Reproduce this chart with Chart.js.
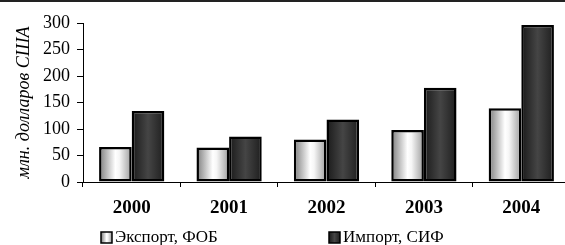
<!DOCTYPE html>
<html>
<head>
<meta charset="utf-8">
<script src="https://cdn.jsdelivr.net/npm/chart.js@4"></script>
<style>
	html, body { margin: 0; padding: 0; background: #fff; overflow: hidden; }
	#wrap { width: 565px; height: 245px; overflow: hidden; }
</style>
</head>
<body>
<div id="wrap"><canvas id="tradeChart" width="572" height="245"></canvas></div>
<script>
const years = ['2000', '2001', '2002', '2003', '2004'];
const exportFob = [66, 65, 80, 98, 139];
const importCif = [134, 86, 118, 178, 296];
const yTicks = [0, 50, 100, 150, 200, 250, 300];
const seriesNames = ['Экспорт, ФОБ', 'Импорт, СИФ'];
const yTitle = 'млн. долларов США';

const serif = '"Liberation Serif", "Times New Roman", serif';
const CAT_PCT = 0.67;

// gradient stops for the two bar styles
const exportStops = [[0, '#7c7c7c'], [0.5, '#ffffff'], [0.62, '#f6f6f6'], [1, '#9c9c9c']];
const importStops = [[0, '#1a1a1a'], [0.5, '#454545'], [1, '#1e1e1e']];

function barFill(stops, solid) {
	return function(context) {
		const chart = context.chart;
		const xs = chart.scales.x;
		if (!xs || context.dataIndex === undefined || !isFinite(xs.left) || !isFinite(xs.right)) return solid;
		const catW = (xs.right - xs.left) / years.length;
		const center = xs.getPixelForValue(context.dataIndex);
		const barW = catW * CAT_PCT / 2;
		const left = center - catW * CAT_PCT / 2 + context.datasetIndex * barW;
		if (!isFinite(left)) return solid;
		const g = chart.ctx.createLinearGradient(left, 0, left + barW, 0);
		stops.forEach(s => g.addColorStop(s[0], s[1]));
		return g;
	};
}

// top frame line + hand-placed legend
const framePlugin = {
	id: 'frame',
	afterDraw(chart) {
		const ctx = chart.ctx;
		ctx.save();
		ctx.fillStyle = '#222';
		ctx.fillRect(0, 0, chart.width, 2);

		const items = [
			{ x: 101, stops: exportStops, name: seriesNames[0] },
			{ x: 329, stops: importStops, name: seriesNames[1] }
		];
		ctx.font = '17px ' + serif;
		ctx.textBaseline = 'middle';
		items.forEach(it => {
			const g = ctx.createLinearGradient(it.x, 0, it.x + 11, 0);
			it.stops.forEach(s => g.addColorStop(s[0], s[1]));
			ctx.fillStyle = g;
			ctx.fillRect(it.x, 232, 11, 11);
			ctx.strokeStyle = '#000';
			ctx.lineWidth = 1.5;
			ctx.strokeRect(it.x, 232, 11, 11);
			ctx.fillStyle = '#000';
			ctx.fillText(it.name, it.x + 14, 237.5);
		});
		ctx.restore();
	}
};

new Chart(document.getElementById('tradeChart').getContext('2d'), {
	type: 'bar',
	data: {
		labels: years,
		datasets: [{
			label: seriesNames[0],
			data: exportFob,
			backgroundColor: barFill(exportStops, '#dddddd'),
			borderColor: '#000',
			borderWidth: 2.5,
			borderSkipped: false,
			categoryPercentage: CAT_PCT,
			barPercentage: 1.0
		}, {
			label: seriesNames[1],
			data: importCif,
			backgroundColor: barFill(importStops, '#333333'),
			borderColor: '#000',
			borderWidth: 2.5,
			borderSkipped: false,
			categoryPercentage: CAT_PCT,
			barPercentage: 1.0
		}]
	},
	options: {
		responsive: false,
		animation: false,
		events: [],
		layout: {
			padding: { top: 23, right: 2, bottom: 0, left: 0 }
		},
		plugins: {
			legend: { display: false },
			tooltip: { enabled: false }
		},
		scales: {
			x: {
				grid: {
					offset: true,
					drawOnChartArea: false,
					drawTicks: true,
					tickLength: 5,
					color: '#000'
				},
				border: { display: true, color: '#000', width: 1 },
				ticks: {
					color: '#000',
					padding: 10,
					font: { family: serif, size: 19, weight: 'bold' }
				},
				afterFit(scale) { scale.height = 63; }
			},
			y: {
				min: 0,
				max: 300,
				afterBuildTicks(scale) {
					scale.ticks = yTicks.map(v => ({ value: v }));
				},
				grid: {
					drawOnChartArea: false,
					drawTicks: true,
					tickLength: 6,
					color: '#000'
				},
				border: { display: true, color: '#000', width: 1 },
				ticks: {
					color: '#000',
					padding: 7,
					font: { family: serif, size: 18 }
				},
				title: {
					display: true,
					text: yTitle,
					color: '#000',
					padding: { top: 13, bottom: 0 },
					font: { family: serif, size: 18, style: 'italic' }
				},
				afterFit(scale) { scale.width = 83; }
			}
		}
	},
	plugins: [framePlugin]
});
</script>
</body>
</html>
